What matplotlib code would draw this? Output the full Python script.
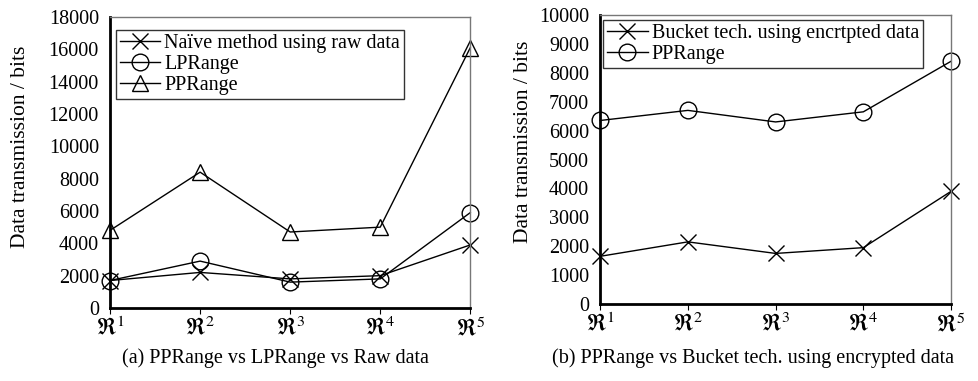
import matplotlib.pyplot as plt

plt.rcParams['font.family'] = ['Liberation Serif', 'DejaVu Serif']
plt.rcParams['mathtext.fontset'] = 'stix'

regions = [r'$\Re^1$', r'$\Re^2$', r'$\Re^3$', r'$\Re^4$', r'$\Re^5$']

# (a) PPRange vs LPRange vs Raw data
naive_raw = [1700, 2200, 1800, 2000, 3900]
lprange = [1700, 2900, 1600, 1800, 5900]
pprange_a = [4800, 8400, 4700, 5000, 16100]

# (b) PPRange vs Bucket tech.
bucket_enc = [1650, 2150, 1750, 1950, 3900]
pprange_b = [6350, 6700, 6300, 6650, 8400]

fs = 14.5
fig = plt.figure(figsize=(9.79, 3.81), dpi=100)
ax1 = fig.add_axes([0.1124, 0.1916, 0.368, 0.764])
ax2 = fig.add_axes([0.613, 0.2021, 0.3585, 0.7585])

x = range(len(regions))
mk = dict(color='black', lw=1, markerfacecolor='none', markeredgecolor='black')

ax1.plot(x, naive_raw, marker='x', ms=11, mew=1, label='Naïve method using raw data', **mk)
ax1.plot(x, lprange, marker='o', ms=12, mew=1, label='LPRange', **mk)
ax1.plot(x, pprange_a, marker='^', ms=12, mew=1, label='PPRange', **mk)
ax1.set_ylim(0, 18000)
ax1.set_yticks(range(0, 18001, 2000))

ax2.plot(x, bucket_enc, marker='x', ms=11, mew=1, label='Bucket tech. using encrtpted data', **mk)
ax2.plot(x, pprange_b, marker='o', ms=12, mew=1, label='PPRange', **mk)
ax2.set_ylim(0, 10000)
ax2.set_yticks(range(0, 10001, 1000))

setup = [(ax1, (0.017, 0.955), (-0.222, 0.553), 0.281, '(a) PPRange vs LPRange vs Raw data'),
         (ax2, (0.009, 0.983), (-0.191, 0.56), 0.769, '(b) PPRange vs Bucket tech. using encrypted data')]
for ax, anchor, labxy, capx, cap in setup:
    ax.set_xlim(0, 4)
    ax.set_xticks(list(x))
    ax.set_xticklabels(regions, fontsize=fs + 2)
    ax.tick_params(axis='y', length=0, labelsize=fs, pad=8)
    ax.tick_params(axis='x', length=4, direction='out', pad=2)
    ax.set_ylabel('Data transmission / bits', fontsize=fs + 1)
    ax.yaxis.set_label_coords(*labxy)
    for s in ['left', 'bottom']:
        ax.spines[s].set_linewidth(2)
    for s in ['top', 'right']:
        ax.spines[s].set_linewidth(1)
        ax.spines[s].set_color('#777777')
    for m in ax.lines:
        m.set_clip_on(False)
    leg = ax.legend(loc='upper left', bbox_to_anchor=anchor, fontsize=fs, frameon=True,
                    fancybox=False, edgecolor='black', handlelength=2.0, handletextpad=0.2,
                    borderpad=0.2, labelspacing=0.1, borderaxespad=0)
    leg.get_frame().set_linewidth(1)
    fig.text(capx, 0.06, cap, ha='center', va='center', fontsize=fs)

fig.savefig('out.png', dpi=100)
